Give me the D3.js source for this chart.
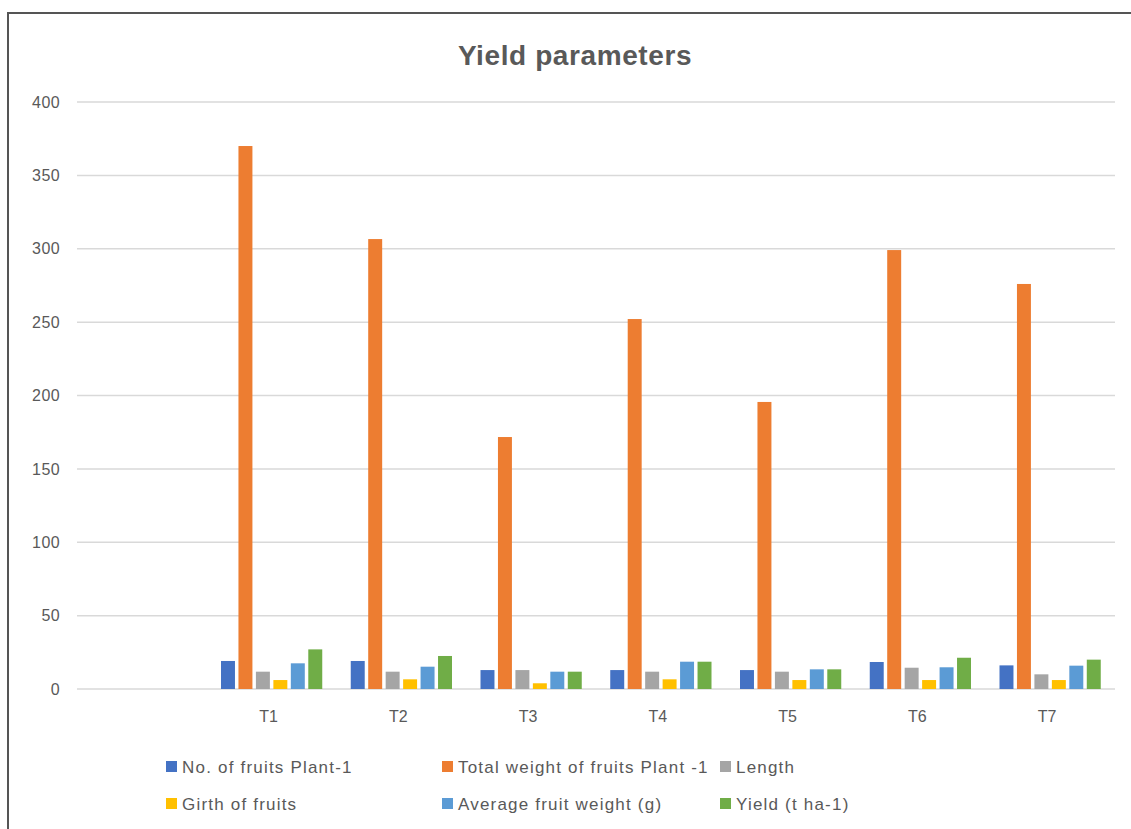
<!DOCTYPE html>
<html>
<head>
<meta charset="utf-8">
<script src="https://cdn.jsdelivr.net/npm/d3@7"></script>
<style>
  html, body { margin: 0; padding: 0; background: #fff; }
  svg { display: block; font-family: "Liberation Sans", Arial, sans-serif; }
</style>
</head>
<body>
<svg id="chart" width="1131" height="829"></svg>
<script>
// Treatments (the first slot on the axis is left blank)
const categories = ["", "T1", "T2", "T3", "T4", "T5", "T6", "T7"];

const seriesNames = [
  "No. of fruits Plant-1",
  "Total weight of fruits Plant -1",
  "Length",
  "Girth of fruits",
  "Average fruit weight (g)",
  "Yield (t ha-1)"
];

const noOfFruits     = [null, 19.1, 19.1, 12.9, 12.9, 12.9, 18.4, 16.1];
const totalWeight    = [null, 370.0, 306.6, 171.7, 252.1, 195.6, 299.1, 276.0];
const lengthVals     = [null, 11.8, 11.8, 12.9, 11.8, 11.8, 14.5, 10.0];
const girthVals      = [null, 6.1, 6.6, 3.9, 6.6, 6.1, 6.1, 6.1];
const avgFruitWeight = [null, 17.5, 15.2, 11.8, 18.6, 13.4, 14.8, 15.9];
const yieldVals      = [null, 27.0, 22.5, 11.8, 18.6, 13.4, 21.3, 20.0];

const yTicks = [0, 50, 100, 150, 200, 250, 300, 350, 400];

const colors = ["#4472C4", "#ED7D31", "#A5A5A5", "#FFC000", "#5B9BD5", "#70AD47"];

const seriesValues = [noOfFruits, totalWeight, lengthVals, girthVals, avgFruitWeight, yieldVals];

const svg = d3.select("#chart");

// frame
svg.append("rect")
  .attr("x", 8).attr("y", 13)
  .attr("width", 1140).attr("height", 840)
  .attr("fill", "#fff")
  .attr("stroke", "#555").attr("stroke-width", 2);

const plot = { left: 77, right: 1115, top: 102, bottom: 689 };

const x0 = d3.scaleBand()
  .domain(categories)
  .range([plot.left, plot.right])
  .padding(0);

const groupPad = 14.25;
const x1 = d3.scaleBand()
  .domain(seriesNames)
  .range([groupPad, x0.bandwidth() - groupPad])
  .paddingInner(0.2)
  .paddingOuter(0);

const y = d3.scaleLinear()
  .domain([0, 400])
  .range([plot.bottom, plot.top]);

// gridlines
svg.append("g")
  .selectAll("line")
  .data(yTicks)
  .join("line")
  .attr("x1", plot.left).attr("x2", plot.right)
  .attr("y1", d => y(d)).attr("y2", d => y(d))
  .attr("stroke", "#d9d9d9").attr("stroke-width", 1.5);

// y axis labels
const yAxis = d3.axisLeft(y).tickValues(yTicks).tickSize(0).tickPadding(0);
const yg = svg.append("g")
  .attr("transform", `translate(${plot.left - 17},0)`)
  .call(yAxis);
yg.select(".domain").remove();
yg.selectAll("text")
  .attr("fill", "#595959")
  .attr("font-size", 16)
  .attr("letter-spacing", 0.4)
  .attr("font-family", "Liberation Sans, Arial, sans-serif");

// x axis labels
const xAxis = d3.axisBottom(x0).tickSize(0).tickPadding(0);
const xg = svg.append("g")
  .attr("transform", `translate(-3,${plot.bottom + 22})`)
  .call(xAxis);
xg.select(".domain").remove();
xg.selectAll("text")
  .attr("fill", "#595959")
  .attr("font-size", 16)
  .attr("font-family", "Liberation Sans, Arial, sans-serif");

// bars
const groups = svg.append("g")
  .selectAll("g")
  .data(categories)
  .join("g")
  .attr("transform", c => `translate(${x0(c)},0)`);

groups.selectAll("rect")
  .data((c, i) => seriesNames
    .map((s, k) => ({ s, k, v: seriesValues[k][i] }))
    .filter(d => d.v != null))
  .join("rect")
  .attr("x", d => x1(d.s))
  .attr("width", x1.bandwidth())
  .attr("y", d => y(d.v))
  .attr("height", d => y(0) - y(d.v))
  .attr("fill", d => colors[d.k]);

// title
svg.append("text")
  .attr("x", 575).attr("y", 65)
  .attr("text-anchor", "middle")
  .attr("font-size", 28)
  .attr("font-weight", "bold")
  .attr("letter-spacing", 0.6)
  .attr("fill", "#595959")
  .text("Yield parameters");

// legend: three columns, two rows
const legendCols = [166, 442, 720];
const legendRows = [767, 804];
const legend = svg.append("g")
  .selectAll("g")
  .data(seriesNames)
  .join("g")
  .attr("transform", (d, i) => `translate(${legendCols[i % 3]},${legendRows[Math.floor(i / 3)]})`);

legend.append("rect")
  .attr("x", 0).attr("y", -6)
  .attr("width", 11).attr("height", 11)
  .attr("fill", (d, i) => colors[i]);

legend.append("text")
  .attr("x", 16).attr("y", 0)
  .attr("dy", "0.35em")
  .attr("font-size", 17)
  .attr("letter-spacing", 1.2)
  .attr("fill", "#595959")
  .text(d => d);
</script>
</body>
</html>
